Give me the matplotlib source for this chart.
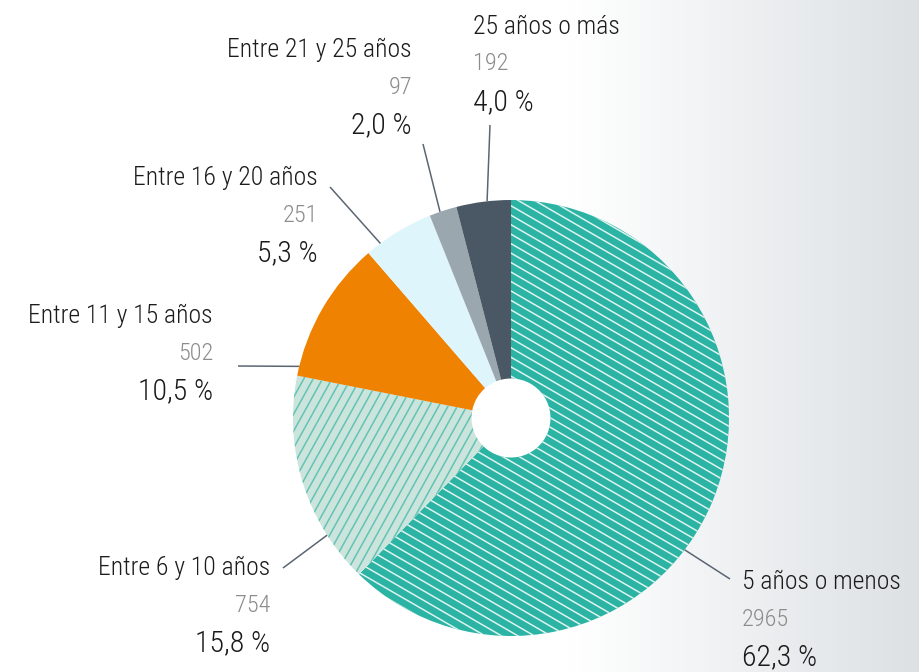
import numpy as np
import matplotlib
matplotlib.use("Agg")
from matplotlib import pyplot as plt
from matplotlib.collections import LineCollection

plt.rcParams['font.family'] = ['Roboto Condensed', 'DejaVu Sans Condensed',
                               'Liberation Sans Narrow', 'Roboto', 'DejaVu Sans']

# data
labels = ["5 años o menos", "Entre 6 y 10 años", "Entre 11 y 15 años",
          "Entre 16 y 20 años", "Entre 21 y 25 años", "25 años o más"]
counts = [2965, 754, 502, 251, 97, 192]
pcts = ["62,3 %", "15,8 %", "10,5 %", "5,3 %", "2,0 %", "4,0 %"]

colors = ["#2bb3a4", "#cbe4dc", "#ef8200", "#def5fc", "#9aa7ae", "#4a5764"]

W, H = 919, 672
cx, cy, R, r_hole = 511, 254, 218, 39.5

fig = plt.figure(figsize=(W / 100, H / 100), dpi=100)
ax = fig.add_axes([0, 0, 1, 1])

# background gradient, white on the left, light grey on the right
xs = np.linspace(0, 1, 400)
t = np.clip((xs - 0.62) / 0.38, 0, 1)
c0 = np.array([1.0, 1.0, 1.0])
c1 = np.array([0.866, 0.882, 0.894])
grad = c0[None, :] * (1 - t[:, None]) + c1[None, :] * t[:, None]
ax.imshow(grad[None, :, :], extent=[0, W, 0, H], aspect='auto', zorder=0)

wedges, _ = ax.pie(counts, colors=colors, startangle=90, counterclock=False,
                   radius=R, center=(cx, cy),
                   wedgeprops=dict(width=R - r_hole, linewidth=0))
for w in wedges:
    w.set_zorder(2)

# hatching drawn as clipped line sets
def hatch(wedge, angle_deg, spacing, color, lw):
    a = np.deg2rad(angle_deg)
    u = np.array([np.cos(a), np.sin(a)])
    n = np.array([-u[1], u[0]])
    segs = []
    for d in np.arange(-R - spacing, R + spacing, spacing):
        p = np.array([cx, cy]) + d * n
        segs.append([p - u * (R + 20), p + u * (R + 20)])
    lc = LineCollection(segs, colors=color, linewidths=lw, zorder=3)
    ax.add_collection(lc)
    lc.set_clip_path(wedge)

hatch(wedges[0], -30, 8.2, "#def3ef", 1.1)
hatch(wedges[1], 61, 8.2, "#63c3b5", 1.1)

# leader lines: angle on the rim and outer end point
leader_angles = [-37.2, 212.5, 166.3, 126.8, 109.0, 96.3]
leader_ends = [(730, 579), (283, 568), (238, 366), (330, 187), (423, 144), (490, 125)]
for ang, (ex, ey) in zip(leader_angles, leader_ends):
    a = np.deg2rad(ang)
    px, py = cx + R * np.cos(a), cy + R * np.sin(a)
    ax.plot([px, ex], [py, H - ey], color="#5b6672", lw=1.1, zorder=4,
            solid_capstyle='butt')

# label blocks: anchor x, alignment, top-line y (pixel from top)
blocks = [(742, 'left', 582), (270, 'right', 568), (213, 'right', 316),
          (318, 'right', 178), (412, 'right', 50), (473, 'left', 27)]
for (bx, ha, by), lab, n, p in zip(blocks, labels, counts, pcts):
    ax.text(bx, H - by, lab, ha=ha, va='center', fontsize=18.5, fontweight='light',
            color="#1c1c1c", zorder=5)
    ax.text(bx, H - (by + 37), str(n), ha=ha, va='center', fontsize=17.5, fontweight='light',
            color="#8c8c8c", zorder=5)
    ax.text(bx, H - (by + 75), p, ha=ha, va='center', fontsize=21.5, fontweight='light',
            color="#1a1a1a", zorder=5)

ax.set_xlim(0, W)
ax.set_ylim(0, H)
ax.set_axis_off()

fig.savefig("out.png", dpi=100)
